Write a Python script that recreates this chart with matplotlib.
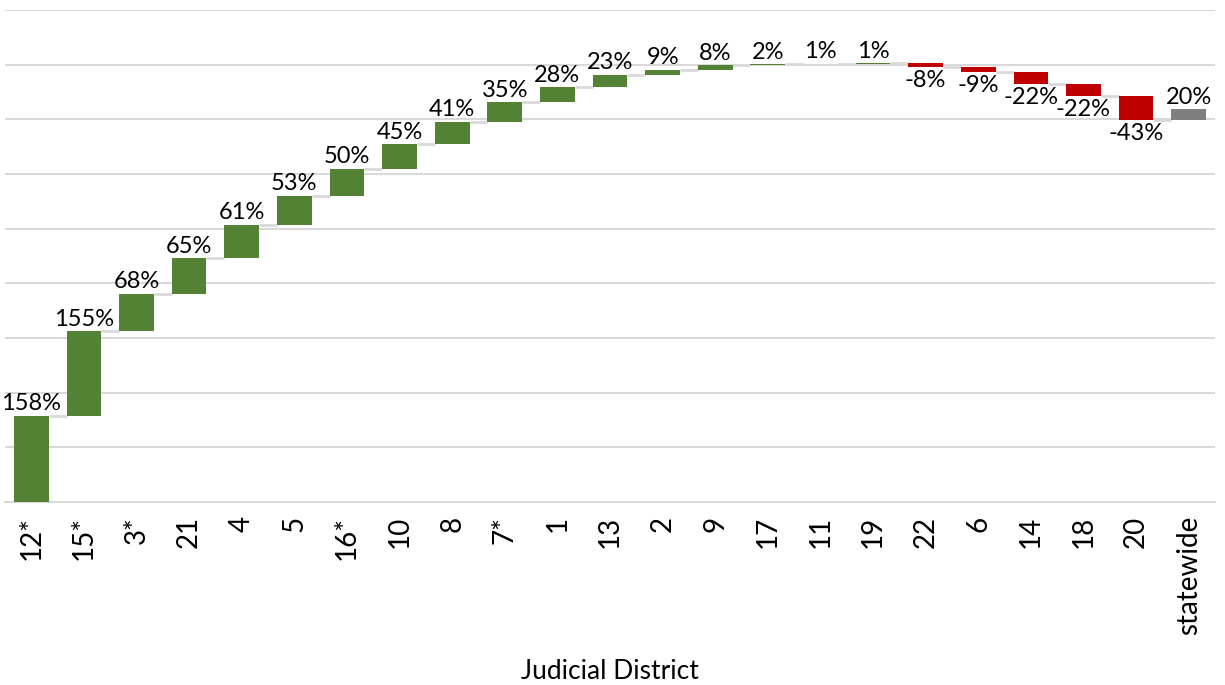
import matplotlib.pyplot as plt

# district change figures, sorted by size, with the statewide total last
districts = ['12*', '15*', '3*', '21', '4', '5', '16*', '10', '8', '7*', '1', '13',
             '2', '9', '17', '11', '19', '22', '6', '14', '18', '20', 'statewide']
changes = [158, 155, 68, 65, 61, 53, 50, 45, 41, 35, 28, 23,
           9, 8, 2, 1, 1, -8, -9, -22, -22, -43, 20]

green = '#548235'
red = '#c00000'
grey = '#7f7f7f'
grid_col = '#d9d9d9'
bar_w = 0.66

plt.rcParams['font.family'] = ['Lato', 'DejaVu Sans']

fig = plt.figure(figsize=(12.25, 6.85), dpi=100)
ax = fig.add_axes([5 / 1225, 1 - 502 / 685, 1210 / 1225, 492 / 685])

# running total, each bar floats from the previous level
level = 0
for i, (name, val) in enumerate(zip(districts, changes)):
    bottom = level
    if name == 'statewide':
        col = grey
    else:
        col = green if val >= 0 else red
    ax.bar(i, val, bottom=bottom, width=bar_w, color=col, zorder=3)
    top = bottom + val
    if val >= 0:
        ax.annotate(f'{val}%', (i, top), xytext=(0, 1), textcoords='offset points',
                    ha='center', va='bottom', fontsize=17, color='#000000', zorder=4)
    else:
        ax.annotate(f'{val}%', (i, top), xytext=(0, -2), textcoords='offset points',
                    ha='center', va='top', fontsize=17, color='#000000', zorder=4)
    # connector to the next bar
    if i < len(districts) - 1 and name != 'statewide':
        ax.hlines(top, i + bar_w / 2, i + 1 - bar_w / 2, color=grid_col, lw=2, zorder=2)
    if name != 'statewide':
        level = top

ax.set_xlim(-0.5, len(districts) - 0.5)
ax.set_ylim(0, 900)
ax.set_yticks(range(0, 901, 100))
ax.yaxis.grid(True, color=grid_col, lw=1.5, zorder=0)
ax.tick_params(axis='y', left=False, labelleft=False)
ax.set_xticks(range(len(districts)))
ax.set_xticklabels(districts, rotation=90, fontsize=20)
ax.tick_params(axis='x', length=0, pad=10)
for s in ['top', 'right', 'left']:
    ax.spines[s].set_visible(False)
ax.spines['bottom'].set_color(grid_col)
ax.spines['bottom'].set_linewidth(1.5)

# axis title placed by hand so it sits under the long tick labels
fig.text(610 / 1225, 6 / 685, 'Judicial District', fontsize=19,
         ha='center', va='baseline')

plt.savefig('out.png', dpi=100)
